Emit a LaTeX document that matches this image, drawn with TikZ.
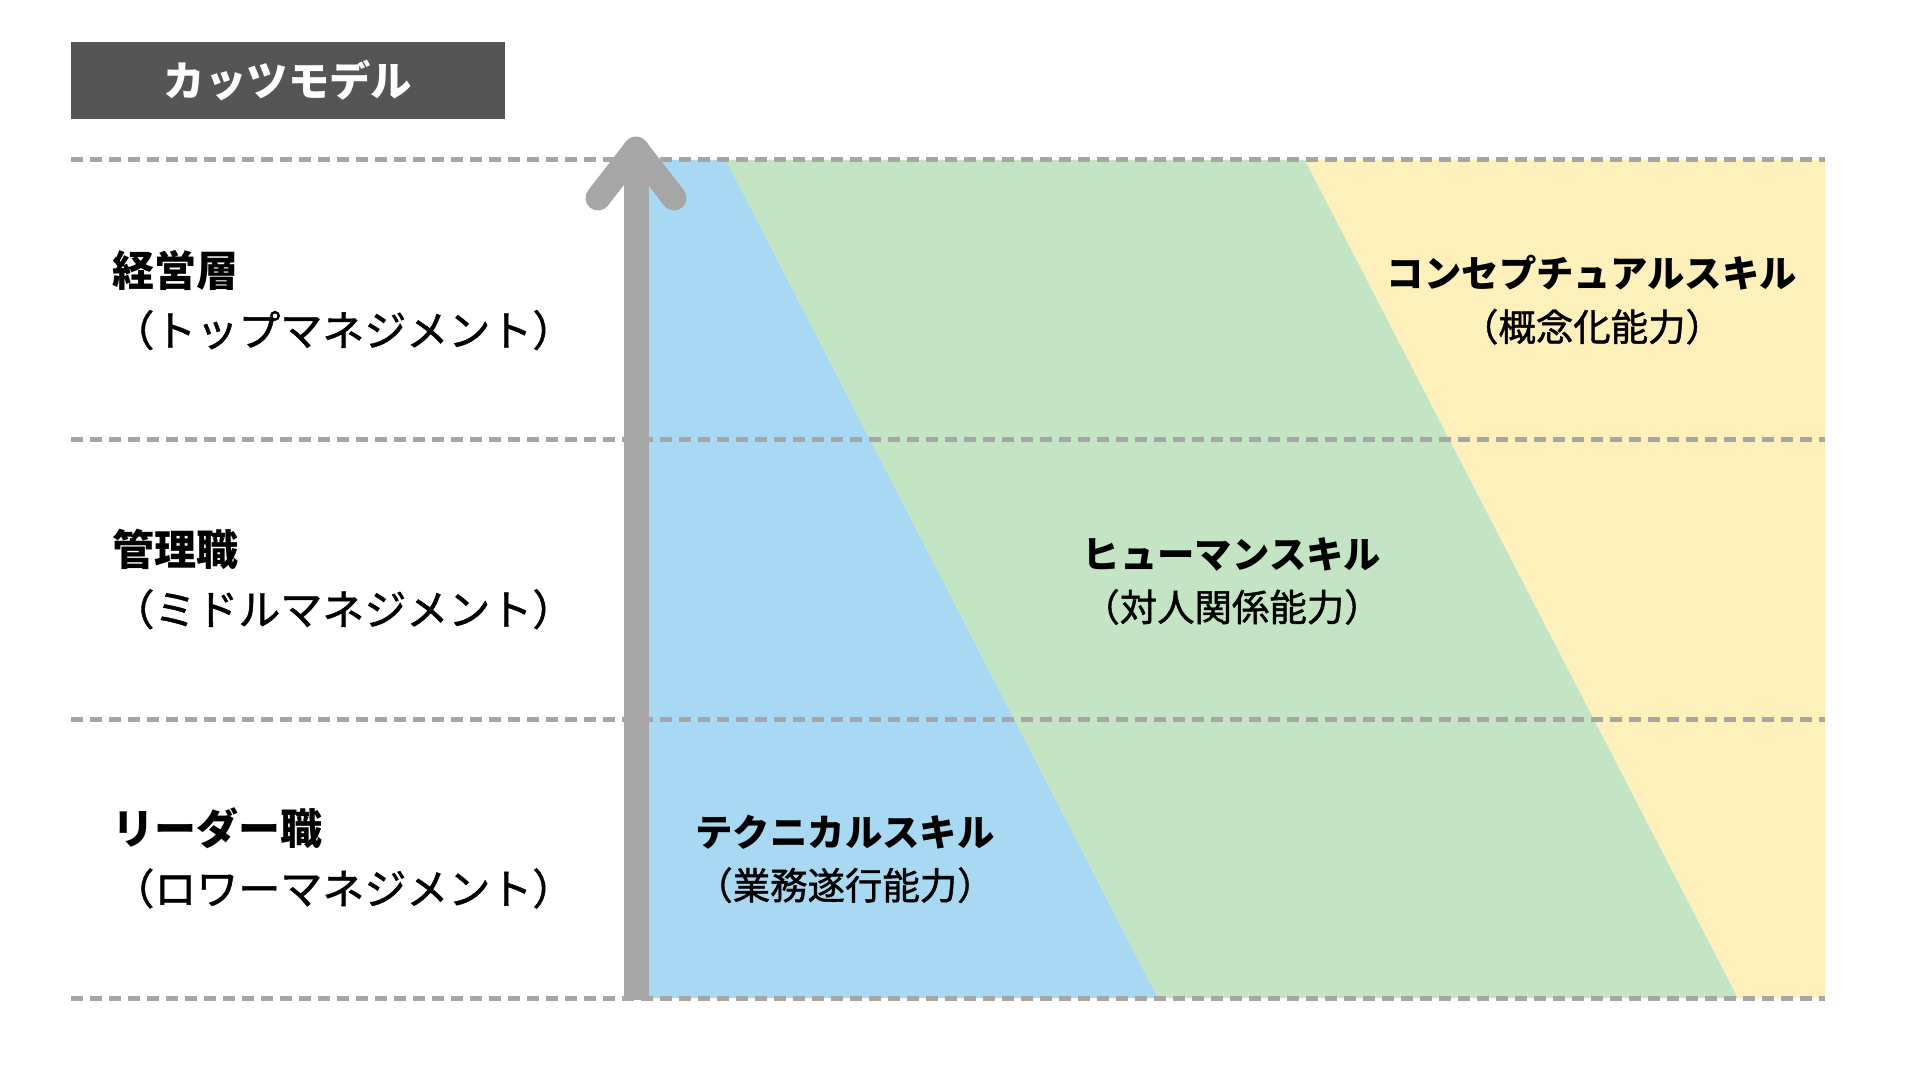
\documentclass[tikz,border=0pt]{standalone}
\usepackage{fontspec}
\setmainfont{Noto Sans CJK JP}
\newfontfamily\jpmid[FakeBold=1.2]{Noto Sans CJK JP}
\usepackage{tikz}

\definecolor{techblue}{HTML}{A9D8F2}
\definecolor{humangreen}{HTML}{C3E5C4}
\definecolor{conceptyellow}{HTML}{FDF0BB}
\definecolor{axisgray}{HTML}{A6A6A6}
\definecolor{titlegray}{HTML}{555555}

\begin{document}
\begin{tikzpicture}[x=0.5pt,y=-0.5pt,
    level/.style={anchor=west,align=left,inner sep=0pt,font=\fontsize{21pt}{30pt}\selectfont},
    skill/.style={align=center,inner sep=0pt,font=\fontsize{18.7pt}{26.5pt}\selectfont}]
  \useasboundingbox (0,0) rectangle (1920,1080);

  %% Skill bands
  \fill[techblue](636,160)--(726,160)--(1158,998)--(636,998)--cycle;
  \fill[humangreen](726,160)--(1305,160)--(1738,998)--(1158,998)--cycle;
  \fill[conceptyellow](1305,160)--(1825,160)--(1825,998)--(1738,998)--cycle;

  %% Level lines
  \foreach \y in {160,439,719,998}
    \draw[axisgray,line width=2.5pt,dash pattern=on 6pt off 3.5pt](71,\y)--(1825,\y);

  %% Axis
  \coordinate (foot) at (636,1000);
  \coordinate (tip) at (636,149);
  \coordinate (barbl) at (598,198);
  \coordinate (barbr) at (674,198);
  \draw[axisgray,line width=12.5pt](foot)--(tip);
  \draw[axisgray,line width=12.5pt,line cap=round,line join=round](barbl)--(tip)--(barbr);

  %% Title
  \node[fill=titlegray,text=white,minimum width=217pt,minimum height=38.5pt,inner sep=0pt,
    font=\bfseries\fontsize{20.7pt}{24pt}\selectfont] (title) at (288,80.5) {カッツモデル};

  %% Levels
  \node[level] (top) at (112,300) {{\bfseries 経営層}\\{\jpmid （トップマネジメント）}};
  \node[level] (middle) at (112,579) {{\bfseries 管理職}\\{\jpmid （ミドルマネジメント）}};
  \node[level] (lower) at (112,858) {{\bfseries リーダー職}\\{\jpmid （ロワーマネジメント）}};

  %% Skills
  \node[skill] (conceptual) at (1592,300) {{\bfseries コンセプチュアルスキル}\\{\jpmid （概念化能力）}};
  \node[skill] (human) at (1232,581) {{\bfseries ヒューマンスキル}\\{\jpmid （対人関係能力）}};
  \node[skill] (technical) at (845,859) {{\bfseries テクニカルスキル}\\{\jpmid （業務遂行能力）}};
\end{tikzpicture}
\end{document}
